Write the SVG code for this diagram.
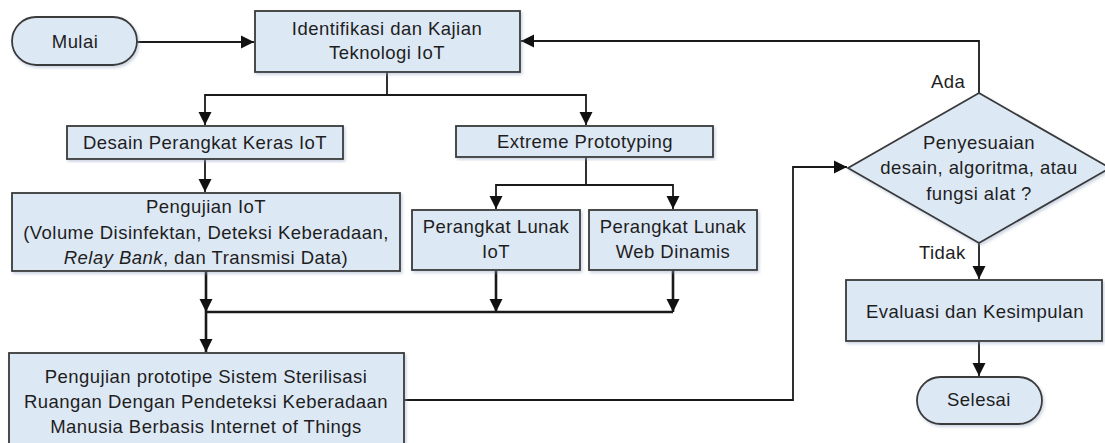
<svg xmlns="http://www.w3.org/2000/svg" width="1105" height="443" viewBox="0 0 1105 443">
<defs>
<marker id="arr" markerUnits="userSpaceOnUse" markerWidth="14" markerHeight="14" viewBox="0 0 14 14" refX="13" refY="7" orient="auto">
<path d="M0,0.5 L13,7 L0,13.5 Z" fill="#111"/>
</marker>
<filter id="sh" x="-5%" y="-5%" width="110%" height="115%">
<feDropShadow dx="1.5" dy="2" stdDeviation="1.5" flood-color="#8fa3bf" flood-opacity="0.45"/>
</filter>
</defs>
<style>
.n{fill:#dde8f5;stroke:#3a3a3a;stroke-width:1.8;filter:url(#sh)}
.t{font-family:"Liberation Sans",Arial,sans-serif;font-size:18.5px;letter-spacing:0.45px;fill:#1e1e1e;text-anchor:middle}
.c{fill:none;stroke:#1a1a1a;stroke-width:1.8}
.k{fill:none;stroke:#1a1a1a;stroke-width:2.6}
.l{font-family:"Liberation Sans",Arial,sans-serif;font-size:18.5px;letter-spacing:0.45px;fill:#1e1e1e}
</style>
<rect width="1105" height="443" fill="#fff"/>
<g id="connectors">
<path class="c" d="M137,42 H254" marker-end="url(#arr)"/>
<path class="c" d="M387,72 V95 H205 V125" marker-end="url(#arr)"/>
<path class="c" d="M387,95 H586 V125" marker-end="url(#arr)"/>
<path class="c" d="M205,159 V192" marker-end="url(#arr)"/>
<path class="c" d="M586,157 V185 H496 V209" marker-end="url(#arr)"/>
<path class="c" d="M586,185 H673 V209" marker-end="url(#arr)"/>
<path class="k" d="M206,271 V312" marker-end="url(#arr)"/>
<path class="k" d="M496,270 V312" marker-end="url(#arr)"/>
<path class="k" d="M673,270 V312" marker-end="url(#arr)"/>
<path class="k" d="M206,312 H673"/>
<path class="k" d="M206,312 V352" marker-end="url(#arr)"/>
<path class="c" d="M404,400 H793 V167 H847" marker-end="url(#arr)"/>
<path class="c" d="M979,93 V41 H521" marker-end="url(#arr)"/>
<path class="c" d="M979,243 V279" marker-end="url(#arr)"/>
<path class="c" d="M979,341 V376" marker-end="url(#arr)"/>
<text class="l" x="931" y="88">Ada</text>
<text class="l" x="919" y="259">Tidak</text>
</g>
<g id="mulai">
<rect class="n" x="12" y="17" width="125" height="48" rx="24" ry="24"/>
<text class="t" x="75" y="48">Mulai</text>
</g>
<g id="identifikasi">
<rect class="n" x="255" y="11" width="265" height="61"/>
<text class="t" x="387" y="35">Identifikasi dan Kajian</text>
<text class="t" x="387" y="59">Teknologi IoT</text>
</g>
<g id="desain">
<rect class="n" x="67" y="126" width="276" height="33"/>
<text class="t" x="205" y="149">Desain Perangkat Keras IoT</text>
</g>
<g id="extreme">
<rect class="n" x="456" y="126" width="257" height="31"/>
<text class="t" x="585" y="148">Extreme Prototyping</text>
</g>
<g id="pengujian-iot">
<rect class="n" x="12" y="193" width="388" height="78"/>
<text class="t" x="206" y="213">Pengujian IoT</text>
<text class="t" x="206" y="239">(Volume Disinfektan, Deteksi Keberadaan,</text>
<text class="t" x="206" y="264"><tspan font-style="italic">Relay Bank</tspan>, dan Transmisi Data)</text>
</g>
<g id="pl-iot">
<rect class="n" x="412" y="210" width="168" height="60"/>
<text class="t" x="496" y="233">Perangkat Lunak</text>
<text class="t" x="496" y="258">IoT</text>
</g>
<g id="pl-web">
<rect class="n" x="589" y="210" width="168" height="60"/>
<text class="t" x="673" y="233">Perangkat Lunak</text>
<text class="t" x="673" y="258">Web Dinamis</text>
</g>
<g id="prototipe">
<rect class="n" x="9" y="353" width="395" height="100"/>
<text class="t" x="206" y="383">Pengujian prototipe Sistem Sterilisasi</text>
<text class="t" x="206" y="408">Ruangan Dengan Pendeteksi Keberadaan</text>
<text class="t" x="206" y="433">Manusia Berbasis Internet of Things</text>
</g>
<g id="keputusan">
<polygon class="n" points="979,93 1110,168 979,243 848,168"/>
<text class="t" x="979" y="149">Penyesuaian</text>
<text class="t" x="979" y="174">desain, algoritma, atau</text>
<text class="t" x="979" y="200">fungsi alat ?</text>
</g>
<g id="evaluasi">
<rect class="n" x="846" y="280" width="256" height="61"/>
<text class="t" x="975" y="318">Evaluasi dan Kesimpulan</text>
</g>
<g id="selesai">
<rect class="n" x="917" y="377" width="125" height="47" rx="23.5" ry="23.5"/>
<text class="t" x="979" y="406">Selesai</text>
</g>
</svg>
